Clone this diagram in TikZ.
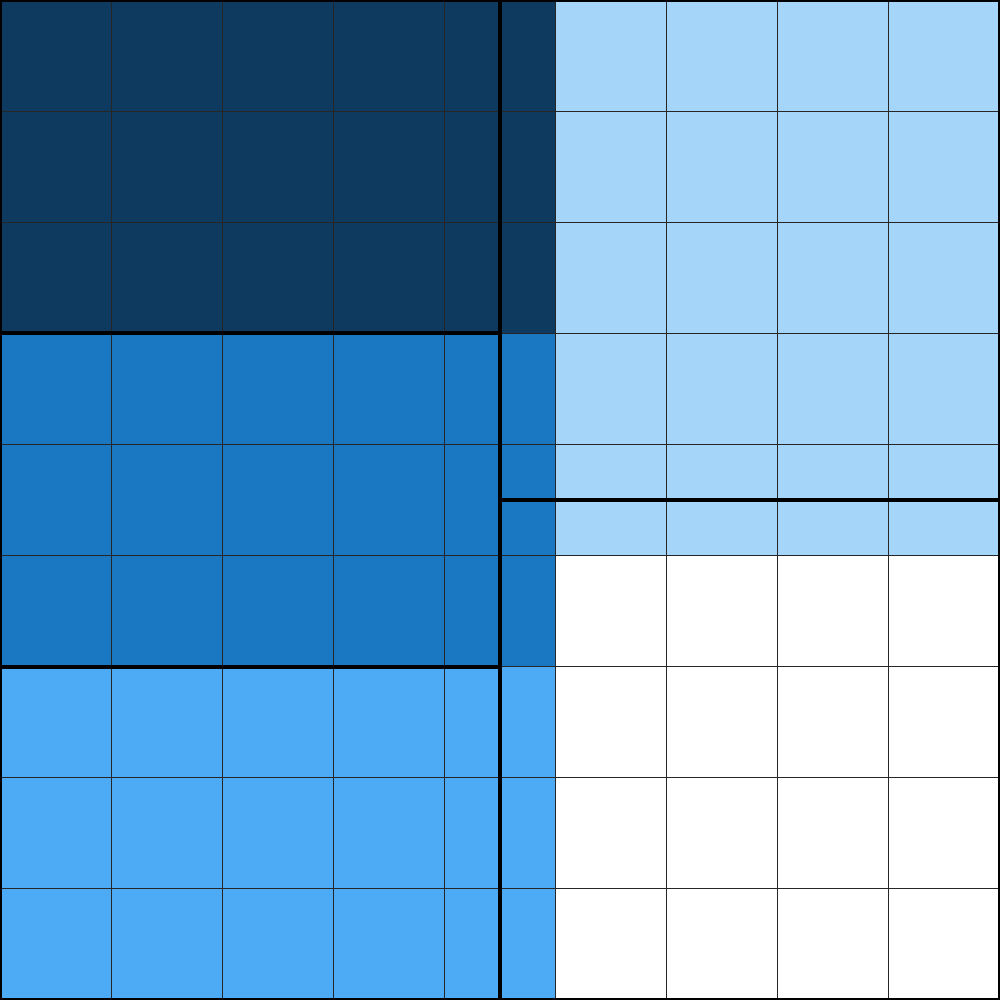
\documentclass[tikz,border=0pt]{standalone}
\definecolor{navy}{HTML}{0D3A5E}
\definecolor{midblue}{HTML}{1A78C2}
\definecolor{lightblue}{HTML}{4DAAF5}
\definecolor{paleblue}{HTML}{A5D5F8}
\begin{document}
\begin{tikzpicture}[x=10cm/9,y=-10cm/9,
  thin grid/.style={draw=black!85,line width=0.3pt},
  thick part/.style={draw=black,line width=1.2pt}]
\useasboundingbox (0,0) rectangle (9,9);
\fill[navy] (0,0) rectangle (5,3);
\fill[midblue] (0,3) rectangle (5,6);
\fill[lightblue] (0,6) rectangle (5,9);
\fill[paleblue] (5,0) rectangle (9,5);
\fill[white] (5,5) rectangle (9,9);
\foreach \i in {1,...,8} {
  \draw[thin grid] (\i,0) -- (\i,9);
  \draw[thin grid] (0,\i) -- (9,\i);
}
\draw[thick part] (4.5,0) -- (4.5,9);
\draw[thick part] (0,3) -- (4.5,3);
\draw[thick part] (0,6) -- (4.5,6);
\draw[thick part] (4.5,4.5) -- (9,4.5);
\draw[thick part] (0,0) rectangle (9,9);
\end{tikzpicture}
\end{document}
